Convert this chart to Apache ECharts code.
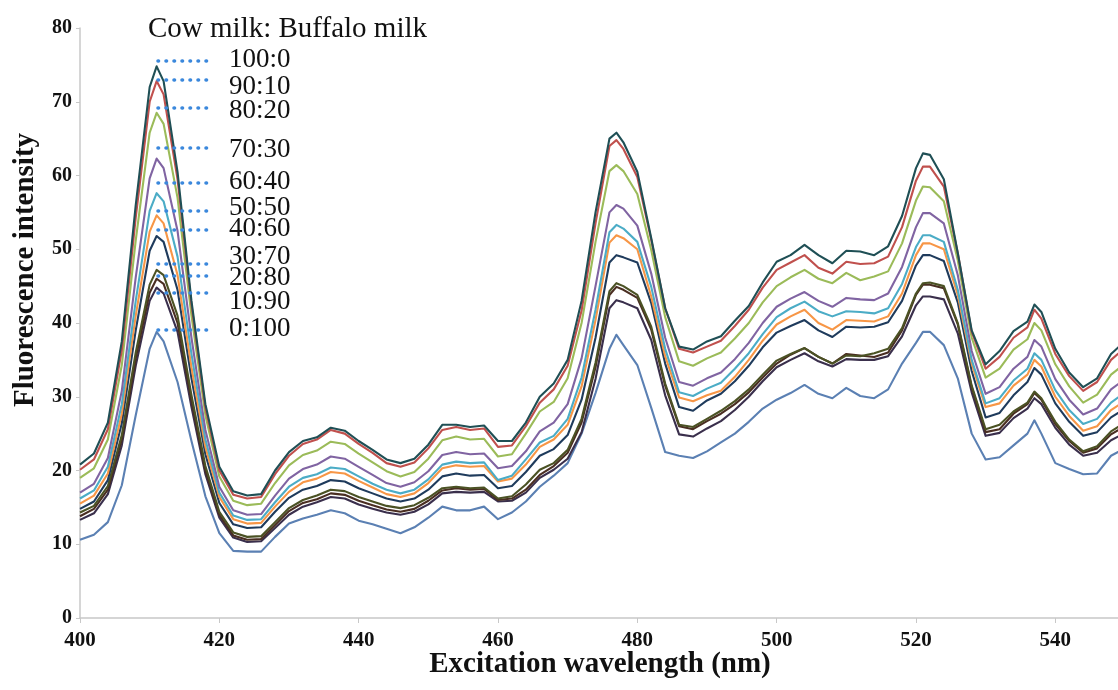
<!DOCTYPE html>
<html>
<head>
<meta charset="utf-8">
<script src="https://cdn.jsdelivr.net/npm/echarts/dist/echarts.min.js"></script>
<style>
html,body{margin:0;padding:0;background:#ffffff;}
#chart{width:1118px;height:690px;}
</style>
</head>
<body>
<div id="chart"></div>
<script>
// Excitation wavelength (nm)
const wavelength = [400,402,404,406,408,410,411,412,414,416,418,420,422,424,426,428,430,432,434,436,438,440,442,444,446,448,450,452,454,456,458,460,462,464,466,468,470,472,474,476,477,478,480,482,484,486,488,490,492,494,496,498,500,502,504,506,508,510,512,514,516,518,520,521,522,524,526,528,530,532,534,536,537,538,540,542,544,546,548,550];

// Fluorescence intensity per Cow:Buffalo milk ratio
const mix100_0 = [20.8,22.3,26.5,37.5,56.0,72.0,74.8,72.8,60.5,43.0,29.0,20.5,17.2,16.6,16.8,20.0,22.5,24.0,24.5,25.8,25.4,24.0,22.8,21.5,21.0,21.6,23.5,26.2,26.2,25.9,26.1,24.0,24.0,26.5,30.0,31.8,35.0,43.0,55.0,65.0,65.8,64.5,60.5,51.5,42.0,36.8,36.4,37.5,38.2,40.3,42.3,45.5,48.3,49.2,50.6,49.2,48.1,49.8,49.7,49.2,50.4,54.5,61.0,63.0,62.8,59.5,49.5,39.0,34.4,36.2,38.9,40.2,42.5,41.5,36.5,33.3,31.3,32.5,35.8,37.5];
const mix90_10 = [20.1,21.5,25.6,36.3,54.3,70.0,72.8,71.0,59.5,42.5,28.5,20.0,16.7,16.2,16.4,19.5,22.0,23.6,24.2,25.5,25.0,23.6,22.4,21.0,20.5,21.1,23.0,25.5,25.9,25.5,25.7,23.2,23.4,26.0,29.2,31.0,34.2,41.7,53.5,64.0,64.8,63.6,59.8,51.3,42.0,36.5,36.0,36.8,37.6,39.6,41.8,44.8,47.2,48.2,49.2,47.5,46.7,48.3,48.0,48.1,49.0,53.0,59.3,61.2,61.2,58.5,49.5,38.8,33.8,35.4,38.0,39.4,41.8,40.6,35.8,32.8,30.8,32.0,35.0,36.6];
const mix80_20 = [19.0,20.3,24.2,34.3,51.2,65.8,68.5,67.0,57.0,41.0,27.5,19.2,15.9,15.3,15.5,18.3,20.7,22.1,22.7,23.9,23.6,22.3,21.1,19.9,19.2,19.8,21.6,24.1,24.6,24.2,24.3,21.9,22.2,25.0,28.0,29.3,32.5,40.0,51.0,60.6,61.4,60.6,57.5,49.9,40.8,34.8,34.2,35.2,36.0,37.9,40.0,42.8,45.0,46.2,47.2,46.0,45.4,46.8,45.8,46.3,47.0,50.8,56.6,58.5,58.4,56.5,48.5,38.0,32.6,33.8,36.4,37.8,40.0,39.0,34.4,31.4,29.2,30.3,33.0,34.5];
const mix70_30 = [17.0,18.2,21.7,30.8,46.2,59.6,62.3,61.0,52.5,38.0,25.5,17.8,14.6,14.0,14.1,16.6,18.9,20.2,20.8,21.9,21.6,20.5,19.4,18.3,17.8,18.4,19.9,22.1,22.5,22.2,22.3,20.3,20.6,22.6,25.3,26.5,29.0,35.2,45.0,55.0,56.0,55.5,53.2,46.7,38.0,32.0,31.5,32.5,33.3,35.1,37.3,40.0,42.2,43.3,44.2,43.0,42.2,43.4,43.2,43.1,44.0,47.6,53.0,54.9,54.9,53.5,46.5,36.2,30.4,31.3,33.8,35.4,37.7,36.8,32.4,29.6,27.6,28.4,31.0,32.4];
const mix60_40 = [16.2,17.3,20.5,29.0,43.0,55.2,57.6,56.5,49.0,35.8,24.2,17.0,13.9,13.3,13.4,15.7,17.8,19.0,19.5,20.4,20.2,19.2,18.2,17.4,16.9,17.4,18.8,20.8,21.2,21.0,21.1,18.7,19.3,21.5,23.8,24.7,27.0,32.6,41.8,52.3,53.3,52.8,51.0,44.9,36.5,30.6,30.1,31.1,31.9,33.8,35.9,38.5,40.8,42.0,42.9,41.6,40.9,41.6,41.5,41.3,42.0,45.3,50.3,51.9,51.9,51.0,44.5,35.0,29.1,29.8,32.2,33.8,35.9,35.0,30.9,28.2,26.3,27.0,29.2,30.6];
const mix50_50 = [15.5,16.6,19.6,27.7,41.0,52.4,54.6,53.5,46.5,34.0,23.2,16.4,13.4,12.8,12.9,15.1,17.1,18.4,18.9,19.8,19.6,18.6,17.7,16.8,16.4,16.9,18.3,20.3,20.7,20.5,20.6,18.5,18.9,20.8,23.2,24.2,26.2,31.4,40.4,50.9,51.9,51.5,50.0,43.6,35.5,29.9,29.4,30.2,30.8,32.7,35.0,37.6,39.8,40.9,41.8,40.0,39.1,40.4,40.3,40.2,40.9,44.0,49.2,50.8,50.8,50.0,43.8,34.5,28.6,29.1,31.5,33.0,35.0,34.1,30.0,27.4,25.4,26.0,28.2,29.4];
const mix40_60 = [14.8,15.8,18.7,26.4,39.0,49.8,51.8,51.0,44.5,32.5,22.2,15.6,12.7,12.2,12.3,14.4,16.3,17.4,17.9,18.7,18.5,17.6,16.9,16.2,15.8,16.2,17.4,19.2,19.6,19.3,19.4,17.6,17.9,19.8,22.0,22.9,24.8,29.6,38.0,48.2,49.2,48.9,48.2,42.7,34.5,28.6,28.1,29.5,30.4,32.1,34.2,36.7,38.7,39.6,40.4,39.0,38.1,39.5,39.4,39.5,40.1,43.0,47.8,49.2,49.2,48.4,42.8,33.5,27.2,27.8,30.2,32.0,33.9,33.0,29.1,26.6,24.7,25.2,27.2,28.4];
const mix30_70 = [14.3,15.2,17.9,24.8,36.0,45.2,47.2,46.5,41.0,30.2,20.6,14.4,11.6,11.0,11.1,13.0,14.9,16.0,16.6,17.4,17.2,16.4,15.8,15.2,14.9,15.3,16.3,17.6,17.8,17.6,17.7,16.2,16.5,18.1,20.1,21.0,22.8,27.0,34.6,44.3,45.4,45.0,43.8,39.5,31.8,26.2,25.9,27.0,28.1,29.4,31.0,33.0,34.9,35.8,36.6,35.4,34.5,35.6,35.5,35.9,36.5,39.3,44.0,45.4,45.5,45.0,40.0,31.5,25.6,26.2,28.0,29.2,30.7,29.8,26.6,24.2,22.6,23.3,25.3,26.5];
const mix20_80 = [13.8,14.8,17.4,24.2,35.2,44.1,46.0,45.3,40.0,29.5,20.0,14.0,11.2,10.6,10.7,12.6,14.5,15.6,16.1,16.9,16.7,15.9,15.3,14.7,14.4,14.8,15.9,17.3,17.6,17.4,17.5,16.0,16.2,17.4,19.4,20.6,22.4,26.5,34.0,43.8,44.9,44.5,43.4,39.1,31.5,26.0,25.6,26.7,27.7,29.0,30.6,32.6,34.5,35.7,36.6,35.4,34.5,35.8,35.6,35.4,36.0,39.0,43.8,45.2,45.2,44.7,39.8,31.3,25.2,25.6,27.7,29.0,30.5,29.6,26.3,24.0,22.4,23.0,24.9,26.0];
const mix10_90 = [13.3,14.2,16.8,23.4,34.2,43.0,44.8,44.0,38.8,28.6,19.5,13.6,10.9,10.3,10.4,12.2,14.0,15.1,15.7,16.4,16.2,15.4,14.8,14.3,14.0,14.4,15.4,16.9,17.1,17.0,17.1,15.8,15.9,17.0,19.0,20.1,21.6,25.2,32.4,42.0,43.1,42.8,42.0,37.7,30.2,24.9,24.6,25.7,26.7,28.2,30.0,32.1,34.0,35.0,35.9,34.8,34.1,35.1,35.0,35.0,35.5,38.2,42.4,43.6,43.6,43.2,38.6,30.6,24.7,25.1,27.1,28.4,29.8,29.0,25.8,23.5,22.0,22.4,24.1,25.1];
const mix0_100 = [10.6,11.3,13.0,18.0,27.5,36.5,38.8,37.5,32.0,24.0,16.5,11.5,9.1,9.0,9.0,11.0,12.8,13.5,14.0,14.6,14.2,13.2,12.7,12.1,11.5,12.3,13.6,15.1,14.6,14.6,15.1,13.4,14.3,15.8,17.8,19.3,21.0,25.0,30.5,36.5,38.4,37.0,34.3,28.5,22.5,22.0,21.7,22.6,23.8,25.0,26.6,28.4,29.6,30.5,31.6,30.4,29.8,31.2,30.1,29.8,31.0,34.5,37.3,38.8,38.8,37.0,32.5,25.0,21.5,21.8,23.4,25.0,26.8,25.0,21.0,20.2,19.5,19.6,22.0,23.0];

const ratioLabels = ["100:0","90:10","80:20","70:30","60:40","50:50","40:60","30:70","20:80","10:90","0:100"];
const seriesValues = [mix100_0,mix90_10,mix80_20,mix70_30,mix60_40,mix50_50,mix40_60,mix30_70,mix20_80,mix10_90,mix0_100];
// intensity level of each dotted leader line (at the 411 nm peak)
const leaderLevels = [75.5,73.0,69.2,63.7,59.0,55.2,52.6,48.1,46.4,44.1,39.1];
const leaderFrom = 411.2, leaderTo = 419.1;
const xTicks = {min:400, max:549, interval:20};
const yTicks = {min:0, max:80, interval:10};
const legendTitle = "Cow milk: Buffalo milk";
const xTitle = "Excitation wavelength (nm)";
const yTitle = "Fluorescence intensity";

const colors = ["#1f4f55","#c0504d","#9bbb59","#8064a2","#4bacc6","#f79646","#1f3b5c","#4b5224","#4a2e22","#3a2f4c","#5b80b3"];
// label pixel centres (layout)
const labelY = [60,86.5,111,150,182,207.5,229,257,278,302,329];

const chart = echarts.init(document.getElementById('chart'), null, {renderer:'canvas'});
const serif = "'Liberation Serif','Times New Roman',serif";

const series = seriesValues.map((vals, i) => ({
  name: ratioLabels[i],
  type: 'line',
  data: wavelength.map((x, k) => [x, vals[k]]),
  showSymbol: false,
  symbol: 'none',
  smooth: false,
  clip: true,
  z: 20 - i,
  lineStyle: {color: colors[i], width: 2.1, join: 'round'},
  itemStyle: {color: colors[i]},
  markLine: {
    silent: true,
    symbol: ['none','none'],
    label: {show: false},
    animation: false,
    z: 30,
    lineStyle: {color: '#3b88dc', width: 3.6, type: [0.5, 7.5], cap: 'round', opacity: 1},
    data: [[{coord: [leaderFrom, leaderLevels[i]]}, {coord: [leaderTo, leaderLevels[i]]}]]
  }
}));

const graphics = [
  {type:'text', x:148, y:29, style:{text:legendTitle, font:"29px "+serif, fill:'#111', align:'left', verticalAlign:'middle'}},
  {type:'text', x:600, y:665, style:{text:xTitle, font:"bold 29px "+serif, fill:'#111', align:'center', verticalAlign:'middle'}},
  {type:'text', x:26, y:270, rotation:Math.PI/2, style:{text:yTitle, font:"bold 29px "+serif, fill:'#111', align:'center', verticalAlign:'middle'}}
];
ratioLabels.forEach((t, i) => {
  graphics.push({type:'text', x:229, y:labelY[i], z:40, style:{text:t, font:"27px "+serif, fill:'#111', align:'left', verticalAlign:'middle'}});
});

chart.setOption({
  animation: false,
  backgroundColor: '#ffffff',
  grid: {left: 80, right: 0, top: 28, bottom: 72, containLabel: false},
  xAxis: {
    type: 'value', min: xTicks.min, max: xTicks.max, interval: xTicks.interval,
    axisLine: {show: true, lineStyle: {color: '#c8c8c8', width: 1.5}},
    axisTick: {show: true, length: 5, lineStyle: {color: '#c8c8c8'}},
    splitLine: {show: false},
    axisLabel: {showMaxLabel: false, margin: 12, color: '#111', fontFamily: serif, fontWeight: 'bold', fontSize: 21}
  },
  yAxis: {
    type: 'value', min: yTicks.min, max: yTicks.max, interval: yTicks.interval,
    axisLine: {show: true, lineStyle: {color: '#c8c8c8', width: 1.5}},
    axisTick: {show: true, length: 4, lineStyle: {color: '#c8c8c8'}},
    splitLine: {show: false},
    axisLabel: {margin: 8, color: '#111', fontFamily: serif, fontWeight: 'bold', fontSize: 20}
  },
  series: series,
  graphic: graphics
});
</script>
</body>
</html>
